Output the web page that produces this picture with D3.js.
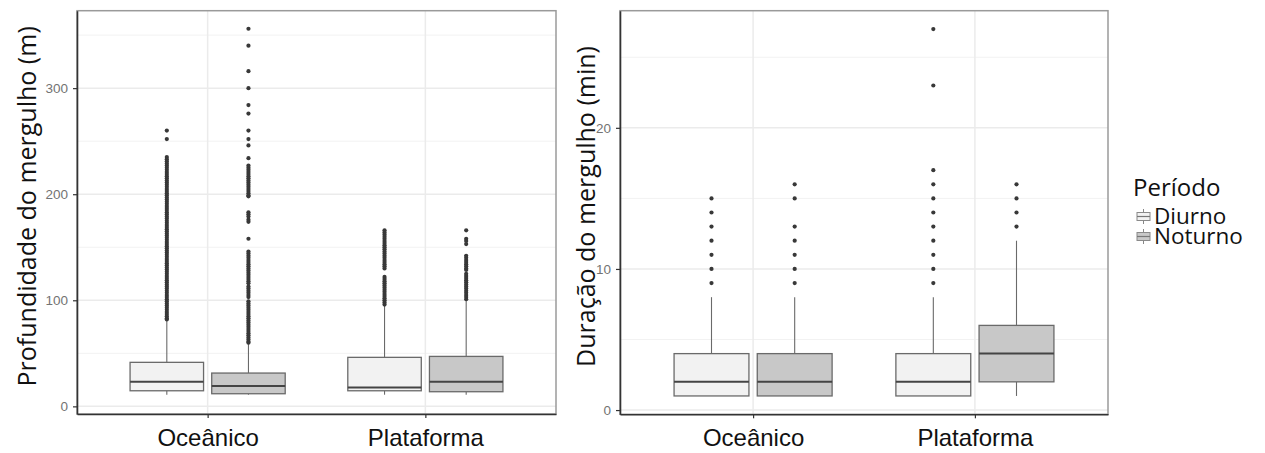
<!DOCTYPE html>
<html>
<head>
<meta charset="utf-8">
<script src="https://cdn.jsdelivr.net/npm/d3@7"></script>
<style>
  html, body { margin: 0; padding: 0; background: #fff; }
  svg { display: block; font-family: "Open Sans", "Noto Sans", sans-serif; }
</style>
</head>
<body>
<svg id="chart" width="1265" height="453"></svg>
<script>
// Categories and groups
const habitats = ["Oceânico", "Plataforma"];
const periods = ["Diurno", "Noturno"];
const periodFill = { Diurno: "#f2f2f2", Noturno: "#c8c8c8" };

// Tick labels
const depthTicks = [0, 100, 200, 300];
const durationTicks = [0, 10, 20];

// Dive depth (m): box statistics per habitat/period
const depthStats = [
  { habitat: "Oceânico",   period: "Diurno",  low: 11, q1: 14.7, median: 23.2, q3: 41.5, high: 81.4 },
  { habitat: "Oceânico",   period: "Noturno", low: 11, q1: 11.9, median: 19.2, q3: 31.4, high: 60 },
  { habitat: "Plataforma", period: "Diurno",  low: 11, q1: 14.7, median: 17.9, q3: 46.2, high: 95.6 },
  { habitat: "Plataforma", period: "Noturno", low: 11, q1: 13.8, median: 23.2, q3: 47.1, high: 101 }
];

// Dive depth (m): outlying dives
const depthOutOceDiurno = [260, 252, 235, 233, 231, 229, 227, 225, 223, 221, 219, 217, 215, 213, 211, 209,
  207, 205, 203, 201, 199, 197, 195, 193, 191, 189, 187, 185, 183, 181, 179, 177, 175, 173, 171, 169, 167,
  165, 163, 161, 159, 157, 155, 153, 151, 149, 147, 145, 143, 141, 139, 137, 135, 133, 131, 129, 127, 125,
  123, 121, 119, 117, 115, 113, 111, 109, 107, 105, 103, 101, 99, 97, 95, 93, 91, 89, 87, 85, 83, 82];
const depthOutOceNoturno = [356, 340, 316, 300, 284, 276, 260, 252, 246, 234, 227, 225, 223, 221, 219, 217,
  215, 213, 211, 209, 207, 205, 203, 201, 199, 198, 183, 181, 179, 176, 174, 158, 146, 144, 142, 140, 138,
  136, 134, 132, 130, 128, 126, 124, 122, 120, 118, 116, 113, 111, 109, 107, 105, 103, 99, 97, 95, 93, 91,
  89, 87, 85, 83, 81, 79, 77, 75, 73, 71, 69, 67, 65, 63, 61, 60];
const depthOutPlatDiurno = [166, 164, 162, 160, 158, 156, 154, 152, 150, 148, 146, 144, 142, 140, 138, 136,
  134, 132, 130, 122, 120, 118, 116, 114, 112, 110, 108, 106, 104, 102, 100, 98, 96];
const depthOutPlatNoturno = [166, 158, 156, 153, 142, 140, 138, 136, 134, 132, 130, 128.6, 125, 123, 121,
  119, 117, 115, 113, 111, 109, 107, 105, 103, 101];

// Dive duration (min): box statistics per habitat/period
const durationStats = [
  { habitat: "Oceânico",   period: "Diurno",  low: 1, q1: 1, median: 2, q3: 4, high: 8 },
  { habitat: "Oceânico",   period: "Noturno", low: 1, q1: 1, median: 2, q3: 4, high: 8 },
  { habitat: "Plataforma", period: "Diurno",  low: 1, q1: 1, median: 2, q3: 4, high: 8 },
  { habitat: "Plataforma", period: "Noturno", low: 1, q1: 2, median: 4, q3: 6, high: 12 }
];

// Dive duration (min): outlying dives
const durOutOceDiurno = [9, 10, 11, 12, 13, 14, 15];
const durOutOceNoturno = [9, 10, 11, 12, 13, 15, 16];
const durOutPlatDiurno = [9, 10, 11, 12, 13, 14, 15, 16, 17, 23, 27];
const durOutPlatNoturno = [13, 14, 15, 16];

const depthOutliers = [
  { habitat: "Oceânico", period: "Diurno", values: depthOutOceDiurno },
  { habitat: "Oceânico", period: "Noturno", values: depthOutOceNoturno },
  { habitat: "Plataforma", period: "Diurno", values: depthOutPlatDiurno },
  { habitat: "Plataforma", period: "Noturno", values: depthOutPlatNoturno }
];
const durationOutliers = [
  { habitat: "Oceânico", period: "Diurno", values: durOutOceDiurno },
  { habitat: "Oceânico", period: "Noturno", values: durOutOceNoturno },
  { habitat: "Plataforma", period: "Diurno", values: durOutPlatDiurno },
  { habitat: "Plataforma", period: "Noturno", values: durOutPlatNoturno }
];

const svg = d3.select("#chart");

function drawPanel(opts) {
  const { x0, x1, y0, y1, domain, ticks, minorTicks, stats, outliers, title, titleX } = opts;
  const g = svg.append("g");

  const x = d3.scalePoint().domain(habitats).range([x0, x1]).padding(0.6);
  const step = x.step();
  const dodge = d3.scaleBand().domain(periods)
    .range([-0.375 * step, 0.375 * step]).paddingInner(0.1).paddingOuter(0.05);
  const y = d3.scaleLinear().domain(domain).range([y1, y0]);

  // background grid
  g.selectAll(".minor").data(minorTicks).join("line")
    .attr("x1", x0).attr("x2", x1)
    .attr("y1", d => y(d)).attr("y2", d => y(d))
    .attr("stroke", "#f2f2f2").attr("stroke-width", 1);
  g.selectAll(".major").data(ticks).join("line")
    .attr("x1", x0).attr("x2", x1)
    .attr("y1", d => y(d)).attr("y2", d => y(d))
    .attr("stroke", "#ebebeb").attr("stroke-width", 1.5);
  g.selectAll(".vmajor").data(habitats).join("line")
    .attr("x1", d => x(d)).attr("x2", d => x(d))
    .attr("y1", y0).attr("y2", y1)
    .attr("stroke", "#ebebeb").attr("stroke-width", 1.5);

  const cx = d => x(d.habitat) + dodge(d.period) + dodge.bandwidth() / 2;

  // whiskers
  g.selectAll(".wh").data(stats).join("line")
    .attr("x1", cx).attr("x2", cx)
    .attr("y1", d => y(d.q3)).attr("y2", d => y(d.high))
    .attr("stroke", "#6a6a6a").attr("stroke-width", 1.1);
  g.selectAll(".wl").data(stats).join("line")
    .attr("x1", cx).attr("x2", cx)
    .attr("y1", d => y(d.q1)).attr("y2", d => y(d.low))
    .attr("stroke", "#6a6a6a").attr("stroke-width", 1.1);

  // boxes
  g.selectAll(".box").data(stats).join("rect")
    .attr("x", d => x(d.habitat) + dodge(d.period))
    .attr("width", dodge.bandwidth())
    .attr("y", d => y(d.q3))
    .attr("height", d => y(d.q1) - y(d.q3))
    .attr("fill", d => periodFill[d.period])
    .attr("stroke", "#6a6a6a").attr("stroke-width", 1.3);
  g.selectAll(".med").data(stats).join("line")
    .attr("x1", d => x(d.habitat) + dodge(d.period))
    .attr("x2", d => x(d.habitat) + dodge(d.period) + dodge.bandwidth())
    .attr("y1", d => y(d.median)).attr("y2", d => y(d.median))
    .attr("stroke", "#444").attr("stroke-width", 2);

  // outliers
  outliers.forEach(o => {
    const px = x(o.habitat) + dodge(o.period) + dodge.bandwidth() / 2;
    g.selectAll(null).data(o.values).join("circle")
      .attr("cx", px).attr("cy", d => y(d)).attr("r", 2.1)
      .attr("fill", "#383838");
  });

  // panel border: darker axis sides, lighter top/right
  g.append("rect").attr("x", x0).attr("y", y0)
    .attr("width", x1 - x0).attr("height", y1 - y0)
    .attr("fill", "none").attr("stroke", "#9a9a9a").attr("stroke-width", 1.5);

  // axes
  const yAxis = g.append("g").attr("transform", `translate(${x0},0)`)
    .call(d3.axisLeft(y).tickValues(ticks).tickSize(4).tickSizeOuter(0).tickPadding(5));
  yAxis.select(".domain").attr("stroke", "#333").attr("stroke-width", 1.6);
  yAxis.selectAll(".tick line").attr("stroke", "#333").attr("stroke-width", 1.2);
  yAxis.selectAll(".tick text").attr("fill", "#737373")
    .style("font-family", "'Liberation Sans', Arial, sans-serif").style("font-size", "13.5px");

  const xAxis = g.append("g").attr("transform", `translate(0,${y1})`)
    .call(d3.axisBottom(x).tickSize(4).tickSizeOuter(0));
  xAxis.select(".domain").attr("stroke", "#333").attr("stroke-width", 1.6);
  xAxis.selectAll(".tick line").attr("stroke", "#333").attr("stroke-width", 1.2);
  xAxis.selectAll(".tick text").attr("fill", "#111").style("font-size", "24px")
    .attr("y", 32).attr("dy", 0);

  // axis title
  g.append("text")
    .attr("transform", `translate(${titleX},${(y0 + y1) / 2 - 6}) rotate(-90)`)
    .attr("text-anchor", "middle").attr("dominant-baseline", "central")
    .attr("fill", "#111").style("font-size", "25px")
    .text(title);
}

drawPanel({
  x0: 77, x1: 556, y0: 10.7, y1: 414,
  domain: [-7.2, 373], ticks: depthTicks, minorTicks: [50, 150, 250, 350],
  stats: depthStats, outliers: depthOutliers,
  title: "Profundidade do mergulho (m)", titleX: 26
});

drawPanel({
  x0: 620, x1: 1108, y0: 10.7, y1: 414.3,
  domain: [-0.3, 28.3], ticks: durationTicks, minorTicks: [5, 15, 25],
  stats: durationStats, outliers: durationOutliers,
  title: "Duração do mergulho (min)", titleX: 585
});

// legend
const legend = svg.append("g").attr("transform", "translate(1133,0)");
legend.append("text").attr("x", 0).attr("y", 196)
  .attr("fill", "#111").style("font-size", "24px").text("Período");
const keys = legend.selectAll(".key").data(periods).join("g")
  .attr("transform", (d, i) => `translate(0,${209 + i * 20})`);
keys.append("line").attr("x1", 10.5).attr("x2", 10.5).attr("y1", 0).attr("y2", 15)
  .attr("stroke", "#888").attr("stroke-width", 1);
keys.append("rect").attr("x", 4).attr("y", 3.5).attr("width", 13).attr("height", 8)
  .attr("fill", d => periodFill[d]).attr("stroke", "#8a8a8a").attr("stroke-width", 1);
keys.append("line").attr("x1", 4).attr("x2", 17).attr("y1", 7.5).attr("y2", 7.5)
  .attr("stroke", "#777").attr("stroke-width", 1.2);
keys.append("text").attr("x", 21).attr("y", 15)
  .attr("fill", "#111").style("font-size", "22.5px").text(d => d);
</script>
</body>
</html>
